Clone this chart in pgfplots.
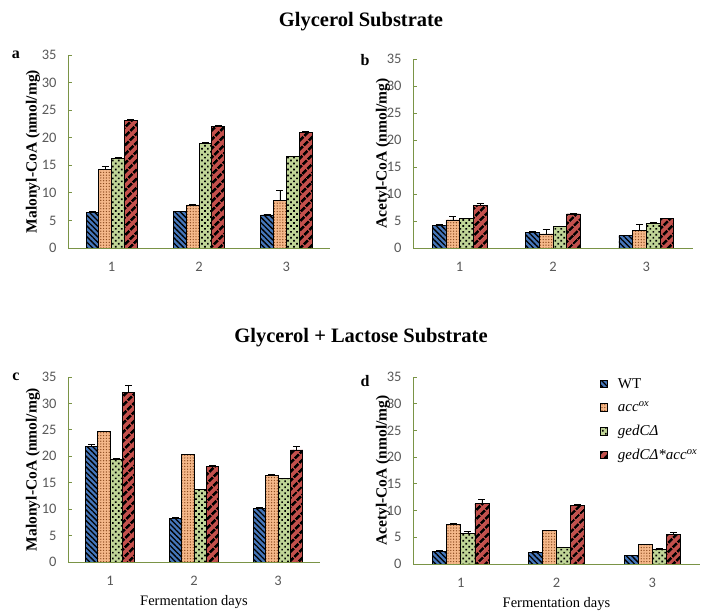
\documentclass[border=0pt]{standalone}
\usepackage{fontspec}
\setmainfont{Liberation Serif}
\newfontfamily\carlito{Carlito}
\usepackage{pgfplots}
\pgfplotsset{compat=1.18}
\usetikzlibrary{patterns.meta}
\definecolor{wtblue}{HTML}{4677BB}
\definecolor{accorange}{HTML}{F5B88A}
\definecolor{gedgreen}{HTML}{C0D597}
\definecolor{comred}{HTML}{C4504C}
\definecolor{axgreen}{HTML}{7A9446}
\definecolor{tickgray}{HTML}{595959}
\definecolor{dotbrown}{HTML}{8B4A1E}

\pgfplotsset{
  panel/.style={
    scale only axis,
    xmin=0.5, xmax=3.5, ymin=0, ymax=35,
    xtick={1,2,3}, ytick={0,5,...,35},
    axis x line*=bottom, axis y line*=left,
    axis line style={axgreen, line width=0.9pt},
    major tick length=4pt,
    ytick style={axgreen, line width=0.8pt},
    xtick style={draw=none},
    tick label style={font=\carlito\fontsize{14.5}{14.5}\selectfont, text=tickgray},
    /pgf/number format/assume math mode=true,
    yticklabel style={xshift=-8pt},
    xticklabel style={yshift=-11pt},
    every axis y label/.style={at={(axis description cs:0,0.5)}, rotate=90, anchor=center, font=\bfseries\fontsize{15.5}{15.5}\selectfont},
    every axis x label/.style={at={(axis description cs:0.5,0)}, anchor=north, yshift=-30pt, font=\fontsize{14.5}{14.5}\selectfont},
    legend image code/.code={\draw[#1,draw=black,line width=0.6pt] (0pt,-3.5pt) rectangle (7.5pt,4pt);},
  },
  barbase/.style={ybar, draw=black, line width=0.8pt, bar shift=#1,
    error bars/y dir=plus, error bars/y explicit,
    error bars/error bar style={black, line width=0.6pt, xshift=#1},
    error bars/error mark options={black, mark size=3.5pt, line width=0.6pt, rotate=90}},
  wt/.style={barbase=#1, fill=wtblue,
    postaction={pattern={Lines[angle=-45,distance=3.8pt,line width=1.3pt]}, pattern color=black}},
  acc/.style={barbase=#1, fill=accorange,
    postaction={pattern={Dots[distance=2.8pt,radius=0.7pt]}, pattern color=dotbrown}},
  ged/.style={barbase=#1, fill=gedgreen,
    postaction={pattern={Dots[distance=4.2pt,radius=1.2pt,angle=45]}, pattern color=black}},
  com/.style={barbase=#1, fill=comred,
    postaction={pattern={Lines[angle=45,distance=6.5pt,line width=2.8pt]}, pattern color=black}},
}

\begin{document}
\begin{tikzpicture}
\useasboundingbox (0pt,0pt) rectangle (701pt,612pt);

\node[font=\bfseries\fontsize{20.5}{20.5}\selectfont] at (361pt,590pt) {Glycerol Substrate};
\node[font=\bfseries\fontsize{20.5}{20.5}\selectfont] at (361pt,274pt) {Glycerol + Lactose Substrate};

% panel a
\begin{axis}[panel, at={(68pt,364pt)}, anchor=south west, width=262pt, height=193pt,
  bar width=12.8pt,
  ylabel={Malonyl-CoA (nmol/mg)}, every axis y label/.append style={yshift=35pt}]
\addplot[wt=-19.2pt] coordinates {(1,6.5) +- (0,0.1) (2,6.6) +- (0,0.1) (3,6.0) +- (0,0.1)};
\addplot[acc=-6.4pt] coordinates {(1,14.2) +- (0,0.6) (2,7.8) +- (0,0.1) (3,8.7) +- (0,1.8)};
\addplot[ged=6.4pt] coordinates {(1,16.3) +- (0,0.1) (2,19.0) +- (0,0.1) (3,16.6) +- (0,0.1)};
\addplot[com=19.2pt] coordinates {(1,23.2) +- (0,0.1) (2,22.1) +- (0,0.1) (3,21.0) +- (0,0.1)};
\end{axis}
\node[font=\bfseries\fontsize{16}{16}\selectfont] at (16pt,557pt) {a};

% panel b
\begin{axis}[panel, at={(413pt,364pt)}, anchor=south west, width=280pt, height=189pt,
  bar width=13.7pt,
  ylabel={Acetyl-CoA (nmol/mg)}, every axis y label/.append style={yshift=30pt}]
\addplot[wt=-20.55pt] coordinates {(1,4.2) +- (0,0.1) (2,2.9) +- (0,0.1) (3,2.3) +- (0,0.1)};
\addplot[acc=-6.85pt] coordinates {(1,5.2) +- (0,0.6) (2,2.6) +- (0,0.9) (3,3.3) +- (0,1.0)};
\addplot[ged=6.85pt] coordinates {(1,5.4) +- (0,0.1) (2,4.0) +- (0,0.1) (3,4.6) +- (0,0.1)};
\addplot[com=20.55pt] coordinates {(1,7.9) +- (0,0.3) (2,6.3) +- (0,0.1) (3,5.4) +- (0,0.1)};
\end{axis}
\node[font=\bfseries\fontsize{16}{16}\selectfont] at (365pt,552pt) {b};

% panel c
\begin{axis}[panel, at={(68pt,50pt)}, anchor=south west, width=252pt, height=185pt,
  bar width=12.35pt,
  ylabel={Malonyl-CoA (nmol/mg)}, every axis y label/.append style={yshift=35pt},
  xlabel={Fermentation days}]
\addplot[wt=-18.5pt] coordinates {(1,21.9) +- (0,0.3) (2,8.3) +- (0,0.1) (3,10.2) +- (0,0.1)};
\addplot[acc=-6.2pt] coordinates {(1,24.7) +- (0,0.1) (2,20.3) +- (0,0.1) (3,16.4) +- (0,0.1)};
\addplot[ged=6.2pt] coordinates {(1,19.5) +- (0,0.1) (2,13.7) +- (0,0.1) (3,15.8) +- (0,0.1)};
\addplot[com=18.5pt] coordinates {(1,32.0) +- (0,1.5) (2,18.1) +- (0,0.1) (3,21.2) +- (0,0.7)};
\end{axis}
\node[font=\bfseries\fontsize{16}{16}\selectfont] at (16pt,235pt) {c};

% panel d
\begin{axis}[panel, at={(413pt,48pt)}, anchor=south west, width=287pt, height=187pt,
  bar width=14.07pt,
  ylabel={Acetyl-CoA (nmol/mg)}, every axis y label/.append style={yshift=30pt},
  xlabel={Fermentation days},
  legend style={at={(axis description cs:0.64,1.015)}, anchor=north west, draw=none, fill=none,
    font=\fontsize{15}{15}\selectfont, row sep=8pt, column sep=8pt, cells={anchor=west}}]
\addplot[wt=-21.1pt] coordinates {(1,2.3) +- (0,0.3) (2,2.2) +- (0,0.1) (3,1.6) +- (0,0.1)};
\addlegendentry{WT}
\addplot[acc=-7.03pt] coordinates {(1,7.4) +- (0,0.2) (2,6.2) +- (0,0.1) (3,3.6) +- (0,0.1)};
\addlegendentry{\textit{acc}\textsuperscript{\textit{ox}}}
\addplot[ged=7.03pt] coordinates {(1,5.75) +- (0,0.4) (2,3.1) +- (0,0.1) (3,2.8) +- (0,0.1)};
\addlegendentry{\textit{gedCΔ}}
\addplot[com=21.1pt] coordinates {(1,11.25) +- (0,0.8) (2,10.9) +- (0,0.2) (3,5.6) +- (0,0.3)};
\addlegendentry{\textit{gedCΔ*acc}\textsuperscript{\textit{ox}}}
\end{axis}
\node[font=\bfseries\fontsize{16}{16}\selectfont] at (365pt,231pt) {d};
\end{tikzpicture}
\end{document}
